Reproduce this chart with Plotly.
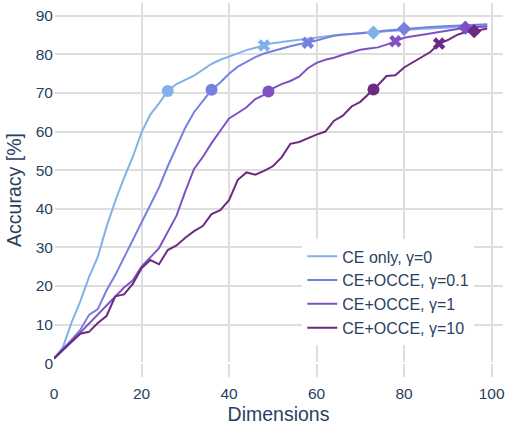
import numpy as np
import plotly.graph_objects as go

# Embedding dimensions kept (evaluated every 2 dims, plus the last one)
DIMS = list(range(0, 100, 2)) + [99]

ACC_CE_ONLY = [1.2, 4.0, 10.5, 16.0, 22.3, 27.5, 35.3, 42.0, 48.0, 53.4,
               59.8, 64.4, 67.3, 70.5, 72.3, 73.5, 74.5, 76.0, 77.5, 78.6,
               79.5, 80.4, 81.1, 81.7, 82.3, 82.9, 83.2, 83.5, 83.7, 84.0,
               84.4, 84.7, 85.0, 85.2, 85.3, 85.5, 85.6, 85.7, 86.0, 86.1,
               86.3, 86.5, 86.6, 86.7, 86.8, 86.9, 87.1, 87.2, 87.3, 87.5, 87.6]

ACC_G01 = [1.2, 3.5, 6.0, 8.6, 12.5, 14.0, 18.8, 22.8, 27.3, 31.7,
           36.2, 41.0, 45.5, 51.0, 56.0, 61.0, 65.0, 67.8, 70.8, 72.7,
           75.0, 76.8, 78.1, 79.3, 80.2, 80.9, 81.5, 82.1, 82.6, 83.0,
           83.6, 84.2, 84.8, 85.1, 85.3, 85.5, 85.6, 85.9, 86.2, 86.4,
           86.6, 86.8, 86.9, 87.1, 87.2, 87.3, 87.4, 87.5, 87.6, 87.7, 87.8]

ACC_G1 = [1.2, 3.6, 5.8, 7.9, 10.2, 12.6, 14.8, 17.2, 19.6, 21.4,
          25.0, 27.4, 29.8, 34.0, 38.2, 44.5, 50.3, 53.4, 57.0, 60.2,
          63.4, 64.8, 66.3, 68.4, 69.5, 71.2, 72.3, 73.1, 74.2, 76.4,
          77.8, 78.6, 79.1, 79.9, 80.6, 81.2, 81.5, 81.8, 82.5, 83.4,
          84.3, 84.7, 85.0, 85.4, 85.8, 86.2, 86.6, 86.9, 87.0, 87.1, 87.2]

ACC_G10 = [1.2, 3.4, 5.4, 7.6, 8.1, 10.4, 12.2, 17.3, 17.8, 20.5,
           24.6, 26.7, 25.6, 29.3, 30.5, 32.5, 34.2, 35.5, 38.6, 39.6,
           42.2, 47.5, 49.4, 48.8, 49.8, 51.0, 53.3, 56.8, 57.3, 58.3,
           59.2, 60.0, 62.8, 64.1, 66.5, 67.7, 69.8, 72.0, 74.4, 74.6,
           76.6, 78.0, 79.3, 80.6, 82.8, 83.7, 85.0, 85.8, 86.0, 86.5, 86.7]

LABELS = ["CE only, γ=0", "CE+OCCE, γ=0.1", "CE+OCCE, γ=1", "CE+OCCE, γ=10"]
COLORS = ["#80b1e8", "#7680e0", "#7f51c3", "#6c2a85"]

# Milestone dimensions (circle, cross, diamond) for each run
MILESTONES = [
    [26, 48, 73],
    [36, 58, 80],
    [49, 78, 94],
    [73, 88, 96],
]
SYMBOLS = ["circle", "x", "diamond"]

SERIES = [ACC_CE_ONLY, ACC_G01, ACC_G1, ACC_G10]

fig = go.Figure()
for acc, label, color in zip(SERIES, LABELS, COLORS):
    fig.add_trace(go.Scatter(
        x=DIMS, y=acc, mode="lines", name=label,
        line=dict(color=color, width=2),
    ))

for acc, color, dims in zip(SERIES, COLORS, MILESTONES):
    fig.add_trace(go.Scatter(
        x=dims, y=np.interp(dims, DIMS, acc).round(2).tolist(),
        mode="markers", showlegend=False, hoverinfo="skip",
        marker=dict(symbol=SYMBOLS, size=[12, 11, 11], color=color,
                    opacity=1, line=dict(width=0)),
    ))

axis_common = dict(
    showgrid=True, gridcolor="#dedede", gridwidth=2,
    zeroline=True, zerolinecolor="white", zerolinewidth=2,
    showline=False, ticks="",
    tickfont=dict(size=15.5),
    title_font=dict(size=19.5),
)

fig.update_layout(
    width=506, height=425,
    margin=dict(l=54, r=1, t=3, b=48),
    paper_bgcolor="white", plot_bgcolor="white",
    font=dict(family="Liberation Sans, Arial, sans-serif", color="#2a3f5f", size=15),
    xaxis=dict(range=[0, 102.6], tickvals=[0, 20, 40, 60, 80, 100],
               ticklabeloverflow="allow", ticklabelstandoff=5,
               title=dict(text="Dimensions", standoff=9), **axis_common),
    yaxis=dict(range=[-3.6, 93.3], tickvals=list(range(0, 100, 10)),
               title=dict(text="Accuracy [%]", standoff=8), **axis_common),
    legend=dict(x=0.553, y=0.368, xanchor="left", yanchor="top",
                bgcolor="white", borderwidth=0, font=dict(size=16),
                tracegroupgap=0),
    showlegend=True,
)

fig.write_html("out.html")
